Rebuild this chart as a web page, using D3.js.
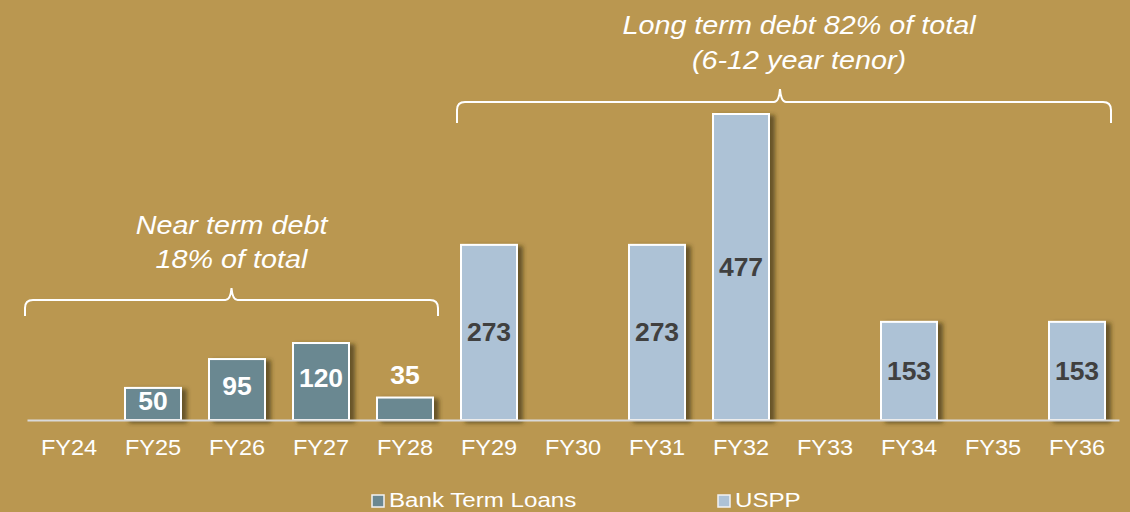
<!DOCTYPE html>
<html>
<head>
<meta charset="utf-8">
<script src="https://cdn.jsdelivr.net/npm/d3@7"></script>
<style>
  html, body { margin: 0; padding: 0; background: #ba9750; }
  svg { display: block; font-family: Arial, "Liberation Sans", sans-serif; }
</style>
</head>
<body>
<svg id="chart"></svg>
<script>
// Chart data
const categories = ["FY24", "FY25", "FY26", "FY27", "FY28", "FY29", "FY30",
                    "FY31", "FY32", "FY33", "FY34", "FY35", "FY36"];
const bankTermLoans = [0, 50, 95, 120, 35, 0, 0, 0, 0, 0, 0, 0, 0];
const usppNotes     = [0, 0, 0, 0, 0, 273, 0, 273, 477, 0, 153, 0, 153];
const seriesNames = ["Bank Term Loans", "USPP"];
const nearTermText = ["Near term debt", "18% of total"];
const longTermText = ["Long term debt 82% of total", "(6-12 year tenor)"];
const nearTermRange = ["FY24", "FY28"];
const longTermRange = ["FY29", "FY36"];

const width = 1130, height = 512;
const bankColor = "#6b8891", usppColor = "#adc2d6";
const stretch = 1.15; // text in the original is a bit wider than plain Arial

const svg = d3.select("#chart")
    .attr("width", width)
    .attr("height", height);

// drop shadow for bars
const defs = svg.append("defs");
const shadow = defs.append("filter")
    .attr("id", "bar-shadow")
    .attr("x", "-20%").attr("y", "-20%")
    .attr("width", "150%").attr("height", "150%");
shadow.append("feDropShadow")
    .attr("dx", 5).attr("dy", 2)
    .attr("stdDeviation", 2)
    .attr("flood-color", "#3a2e18")
    .attr("flood-opacity", 0.65);

svg.append("rect")
    .attr("width", width).attr("height", height)
    .attr("fill", "#ba9750");

// Scales
const x = d3.scaleBand()
    .domain(categories)
    .range([27, 1119])
    .paddingInner(1 / 3)
    .paddingOuter(1 / 6);

const y = d3.scaleLinear()
    .domain([0, 477])
    .range([420, 114]);

// Bars
const rows = categories.map((c, i) => ({
    cat: c, bank: bankTermLoans[i], uspp: usppNotes[i]
}));

const gBars = svg.append("g");
gBars.selectAll(".bank")
    .data(rows.filter(d => d.bank > 0))
    .enter().append("rect")
    .attr("class", "bank")
    .attr("x", d => x(d.cat))
    .attr("y", d => y(d.bank))
    .attr("width", x.bandwidth())
    .attr("height", d => y(0) - y(d.bank))
    .attr("fill", bankColor)
    .attr("stroke", "#fff")
    .attr("stroke-width", 2)
    .attr("filter", "url(#bar-shadow)");

gBars.selectAll(".uspp")
    .data(rows.filter(d => d.uspp > 0))
    .enter().append("rect")
    .attr("class", "uspp")
    .attr("x", d => x(d.cat))
    .attr("y", d => y(d.uspp))
    .attr("width", x.bandwidth())
    .attr("height", d => y(0) - y(d.uspp))
    .attr("fill", usppColor)
    .attr("stroke", "#fff")
    .attr("stroke-width", 2)
    .attr("filter", "url(#bar-shadow)");

// Axis
const axis = svg.append("g")
    .attr("transform", `translate(0,${y(0)})`)
    .call(d3.axisBottom(x).tickSize(0).tickPadding(19));
axis.select(".domain")
    .attr("stroke", "#d9d9d9")
    .attr("stroke-width", 2);
axis.selectAll("text")
    .attr("fill", "#fff")
    .attr("font-size", 22)
    .attr("font-family", "Arial, 'Liberation Sans', sans-serif")
    .attr("transform", "scale(1.07,1)");

// Value labels
const gLabels = svg.append("g")
    .attr("font-size", 25)
    .attr("font-weight", "bold")
    .attr("text-anchor", "middle");

gLabels.selectAll(".bank-label")
    .data(rows.filter(d => d.bank > 0))
    .enter().append("text")
    .attr("transform", d => {
        const h = y(0) - y(d.bank);
        const ty = h < 30 ? y(d.bank) - 22 : y(d.bank) + h / 2 - 3;
        return `translate(${x(d.cat) + x.bandwidth() / 2},${ty}) scale(1.06,1)`;
    })
    .attr("dy", "0.35em")
    .attr("fill", "#fff")
    .text(d => d.bank);

gLabels.selectAll(".uspp-label")
    .data(rows.filter(d => d.uspp > 0))
    .enter().append("text")
    .attr("transform", d =>
        `translate(${x(d.cat) + x.bandwidth() / 2},${(y(d.uspp) + y(0)) / 2}) scale(1.06,1)`)
    .attr("dy", "0.35em")
    .attr("fill", "#404040")
    .text(d => d.uspp);

// Curly braces
function brace(x0, x1, yLine, drop, peak, xm) {
    const r = 8;
    return `M${x0},${yLine + drop} L${x0},${yLine + r} Q${x0},${yLine} ${x0 + r},${yLine}`
        + ` L${xm - 6},${yLine} Q${xm - 1},${yLine} ${xm},${yLine - peak}`
        + ` Q${xm + 1},${yLine} ${xm + 6},${yLine}`
        + ` L${x1 - r},${yLine} Q${x1},${yLine} ${x1},${yLine + r} L${x1},${yLine + drop}`;
}

const nearX0 = x(nearTermRange[0]) - 16;
const nearX1 = x(nearTermRange[1]) + x.bandwidth() + 5;
const longX0 = x(longTermRange[0]) - 4;
const longX1 = x(longTermRange[1]) + x.bandwidth() + 6;

svg.append("path")
    .attr("d", brace(nearX0, nearX1, 300, 16, 12, (nearX0 + nearX1) / 2))
    .attr("fill", "none").attr("stroke", "#fff").attr("stroke-width", 2);
svg.append("path")
    .attr("d", brace(longX0, longX1, 102, 21, 13, (longX0 + longX1) / 2 - 4))
    .attr("fill", "none").attr("stroke", "#fff").attr("stroke-width", 2);

// Annotation text
function annotation(lines, cx, y0, lineGap) {
    const t = svg.append("text")
        .attr("transform", `translate(${cx},0) scale(${stretch},1)`)
        .attr("text-anchor", "middle")
        .attr("font-size", 25)
        .attr("font-style", "italic")
        .attr("fill", "#fff");
    lines.forEach((line, i) => {
        t.append("tspan")
            .attr("x", 0)
            .attr("y", y0 + i * lineGap)
            .text(line);
    });
}
annotation(nearTermText, (nearX0 + nearX1) / 2, 234, 34);
annotation(longTermText, 799, 34, 35);

// Legend
const legend = svg.append("g").attr("font-size", 21).attr("fill", "#fff");
const legendX = [372, 718];
const legendColors = [bankColor, usppColor];
seriesNames.forEach((name, i) => {
    legend.append("rect")
        .attr("x", legendX[i]).attr("y", 495)
        .attr("width", 12).attr("height", 12)
        .attr("fill", legendColors[i])
        .attr("stroke", "#f2f2f2")
        .attr("stroke-width", 1.5);
    legend.append("text")
        .attr("transform", `translate(${legendX[i] + 17},507) scale(${stretch},1)`)
        .text(name);
});
</script>
</body>
</html>
